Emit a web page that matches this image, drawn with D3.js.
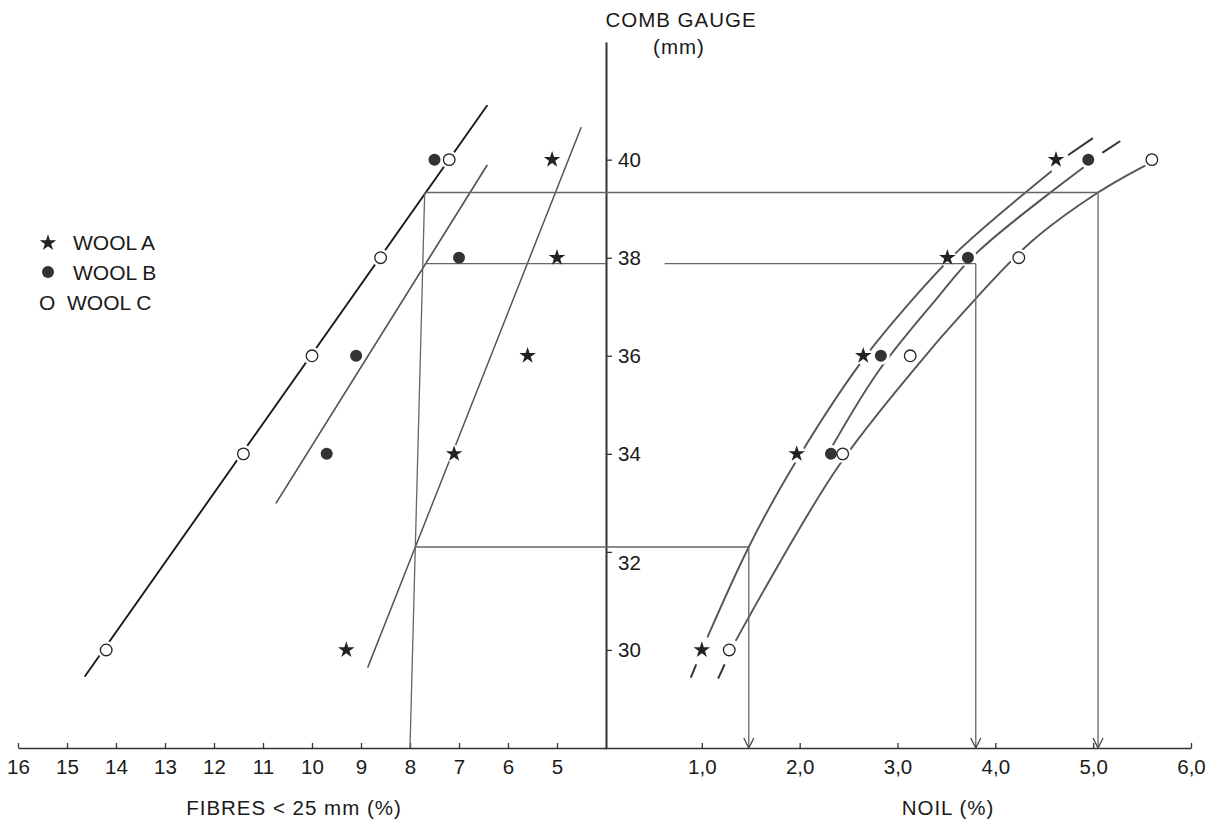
<!DOCTYPE html>
<html>
<head>
<meta charset="utf-8">
<script src="https://cdn.jsdelivr.net/npm/d3@7"></script>
<style>
  body { margin: 0; background: #fff; }
  text { font-family: "Liberation Sans", Arial, sans-serif; fill: #1a1a1a; }
</style>
</head>
<body>
<div id="chart"></div>
<script>
// Comb gauge (mm) for each measured sample
var gauges = [40, 38, 36, 34, 30];

// Fibres shorter than 25 mm (%) - left half
var fibreA = [5.1, 5.0, 5.6, 7.1, 9.3];
var fibreB = [7.5, 7.0, 9.1, 9.7];
var fibreC = [7.2, 8.6, 10.0, 11.4, 14.2];

// Noil (%) - right half
var noilA = [4.62, 3.51, 2.65, 1.97, 1.0];
var noilB = [4.95, 3.72, 2.83, 2.32];
var noilC = [5.6, 4.24, 3.13, 2.44, 1.28];

// Fitted lines, [value, gauge]
var fitFibreA = [[8.86, 29.65], [4.51, 40.65]];
var fitFibreB = [[10.73, 33.0], [6.43, 39.88]];
var fitFibreC = [[14.63, 29.47], [6.43, 41.1]];
var fitNoilA = [[1.06, 30.27], [1.48, 32.1], [1.91, 33.67], [2.61, 35.82], [3.15, 37.14], [3.63, 38.16], [4.57, 39.76]];
var fitNoilB = [[2.30, 34.04], [2.80, 35.67], [3.39, 37.14], [3.81, 38.1], [4.9, 39.84]];
var fitNoilC = [[1.35, 30.2], [2.37, 33.67], [3.21, 35.82], [3.67, 36.88], [4.37, 38.33], [5.05, 39.33], [5.55, 39.9]];
// short extrapolated dashes beyond the curve ends
var extNoil = [
  [[0.89, 29.45], [0.94, 29.69]],
  [[4.75, 40.1], [4.99, 40.43]],
  [[5.1, 40.15], [5.27, 40.37]],
  [[1.17, 29.43], [1.23, 29.69]]
];

// Reading lines: gauge level, fibre % where it starts, noil % where it drops to the axis
var readGauge = [39.33, 37.88, 32.1];
var readFibre = [7.7, 7.7, 7.88];
var readNoil = [5.05, 3.8, 1.48];

// Tick labels
var fibreTicks = [16, 15, 14, 13, 12, 11, 10, 9, 8, 7, 6, 5];
var noilTicks = [1, 2, 3, 4, 5, 6];
var gaugeTicks = [30, 32, 34, 36, 38, 40];

var svgWidth = 1209, svgHeight = 824;
var axisY = 748, axisX = 606;

var svg = d3.select("#chart").append("svg")
  .attr("width", svgWidth)
  .attr("height", svgHeight);

var defs = svg.append("defs");
defs.append("marker")
  .attr("id", "arrow")
  .attr("viewBox", "-11 -6 12 12")
  .attr("refX", 0).attr("refY", 0)
  .attr("markerWidth", 12).attr("markerHeight", 12)
  .attr("markerUnits", "userSpaceOnUse")
  .attr("orient", "auto")
  .append("path")
  .attr("d", "M-10,-5L0,0L-10,5")
  .attr("fill", "none")
  .attr("stroke", "#444")
  .attr("stroke-width", 1.3);

// Scales
var xFibre = d3.scaleLinear().domain([16, 4]).range([18, axisX]);
var xNoil = d3.scaleLinear().domain([0, 6]).range([604, 1191]);
var yGauge = d3.scaleLinear().domain([28, 42.4]).range([axisY, 42]);

// Axes
var fibreAxis = d3.axisBottom(xFibre).tickValues(fibreTicks)
  .tickSizeInner(-5).tickSizeOuter(0).tickPadding(11).tickFormat(d3.format("d"));
var noilAxis = d3.axisBottom(xNoil).tickValues(noilTicks)
  .tickSizeInner(-5).tickSizeOuter(0).tickPadding(11)
  .tickFormat(function(d) { return d.toFixed(1).replace(".", ","); });
var gaugeAxis = d3.axisRight(yGauge).tickValues(gaugeTicks)
  .tickSizeInner(6).tickSizeOuter(0).tickPadding(6);

function styleAxis(g) {
  g.select(".domain").attr("stroke", "#333").attr("stroke-width", 1.6);
  g.selectAll(".tick line").attr("stroke", "#333").attr("stroke-width", 1.3);
  g.selectAll(".tick text").attr("font-size", 20.5)
    .attr("font-family", "Liberation Sans, Arial, sans-serif").attr("fill", "#1a1a1a");
}

svg.append("g").attr("transform", `translate(0, ${axisY})`).call(fibreAxis).call(styleAxis);
svg.append("g").attr("transform", `translate(0, ${axisY})`).call(noilAxis).call(styleAxis);
var gAxis = svg.append("g").attr("transform", `translate(${axisX}, 0)`).call(gaugeAxis).call(styleAxis);
gAxis.select(".domain").attr("stroke-width", 2);
// the 32 label sits just below the reading line
gAxis.selectAll(".tick text").filter(function(d) { return d === 32; }).attr("dy", "0.85em");

// Fitted lines
var lineFibre = d3.line().x(d => xFibre(d[0])).y(d => yGauge(d[1]));
var lineNoil = d3.line().x(d => xNoil(d[0])).y(d => yGauge(d[1])).curve(d3.curveCatmullRom);
var dashNoil = d3.line().x(d => xNoil(d[0])).y(d => yGauge(d[1]));

var fitGroup = svg.append("g").attr("fill", "none").attr("stroke-linecap", "round");
fitGroup.append("path").attr("d", lineFibre(fitFibreC)).attr("stroke", "#1a1a1a").attr("stroke-width", 1.9);
fitGroup.append("path").attr("d", lineFibre(fitFibreB)).attr("stroke", "#555").attr("stroke-width", 1.7);
fitGroup.append("path").attr("d", lineFibre(fitFibreA)).attr("stroke", "#555").attr("stroke-width", 1.5);
[fitNoilA, fitNoilB, fitNoilC].forEach(function(pts) {
  fitGroup.append("path").attr("d", lineNoil(pts)).attr("stroke", "#555").attr("stroke-width", 1.9);
});
extNoil.forEach(function(pts) {
  fitGroup.append("path").attr("d", dashNoil(pts)).attr("stroke", "#333").attr("stroke-width", 2);
});

// Build marker points
function points(vals, xs, wool) {
  return vals.map(function(v, i) { return { x: xs(v), y: yGauge(gauges[i]), wool: wool }; });
}
var allPoints = [].concat(
  points(fibreA, xFibre, "A"), points(fibreB, xFibre, "B"), points(fibreC, xFibre, "C"),
  points(noilA, xNoil, "A"), points(noilB, xNoil, "B"), points(noilC, xNoil, "C"));

// white halos break the fitted lines around the markers
svg.append("g").selectAll("circle").data(allPoints).enter().append("circle")
  .attr("cx", d => d.x).attr("cy", d => d.y).attr("r", 9).attr("fill", "#fff");

// Reading lines
var readGroup = svg.append("g").attr("stroke", "#666").attr("stroke-width", 1.3).attr("fill", "none");
readGauge.forEach(function(g, i) {
  var y = yGauge(g);
  if (i === 1) {
    readGroup.append("line").attr("x1", xFibre(readFibre[i])).attr("x2", axisX).attr("y1", y).attr("y2", y);
    readGroup.append("line").attr("x1", xNoil(0.62)).attr("x2", xNoil(readNoil[i])).attr("y1", y).attr("y2", y);
  } else {
    readGroup.append("line").attr("x1", xFibre(readFibre[i])).attr("x2", xNoil(readNoil[i])).attr("y1", y).attr("y2", y);
  }
  readGroup.append("line")
    .attr("x1", xNoil(readNoil[i])).attr("x2", xNoil(readNoil[i]))
    .attr("y1", y).attr("y2", axisY)
    .attr("marker-end", "url(#arrow)");
});
readGroup.append("line")
  .attr("x1", xFibre(readFibre[0])).attr("y1", yGauge(readGauge[0]))
  .attr("x2", xFibre(8)).attr("y2", axisY);

// Markers
var star = d3.symbol().type(d3.symbolStar).size(85);
var markGroup = svg.append("g");
markGroup.selectAll("path").data(allPoints.filter(d => d.wool === "A")).enter().append("path")
  .attr("d", star).attr("transform", d => `translate(${d.x}, ${d.y})`).attr("fill", "#222");
markGroup.selectAll("circle.b").data(allPoints.filter(d => d.wool === "B")).enter().append("circle")
  .attr("class", "b").attr("cx", d => d.x).attr("cy", d => d.y).attr("r", 6).attr("fill", "#333");
markGroup.selectAll("circle.c").data(allPoints.filter(d => d.wool === "C")).enter().append("circle")
  .attr("class", "c").attr("cx", d => d.x).attr("cy", d => d.y).attr("r", 5.8)
  .attr("fill", "#fff").attr("stroke", "#222").attr("stroke-width", 1.3);

// Legend
var legend = svg.append("g").attr("font-size", 21);
legend.append("path").attr("d", star).attr("transform", "translate(48, 243)").attr("fill", "#222");
legend.append("text").attr("x", 73).attr("y", 250).text("WOOL A");
legend.append("circle").attr("cx", 48).attr("cy", 272).attr("r", 6).attr("fill", "#333");
legend.append("text").attr("x", 73).attr("y", 280).text("WOOL B");
var lc = legend.append("text").attr("x", 39).attr("y", 310).text("O");
lc.append("tspan").attr("x", 67).text("WOOL C");

// Titles
function title(x, y, label) {
  svg.append("text").attr("x", x).attr("y", y).attr("text-anchor", "middle")
    .attr("font-size", 20.5).attr("letter-spacing", 1).text(label);
}
title(681, 27, "COMB GAUGE");
title(679, 54, "(mm)");
title(294, 815, "FIBRES < 25 mm (%)");
title(948, 815, "NOIL (%)");
</script>
</body>
</html>
